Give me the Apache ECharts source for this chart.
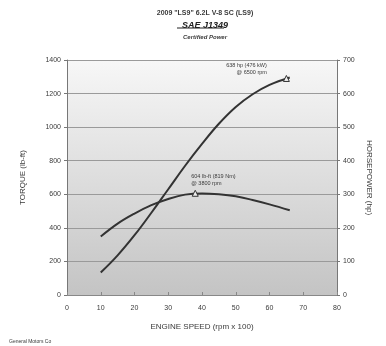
<!DOCTYPE html>
<html>
<head>
<meta charset="utf-8">
<script src="https://cdn.jsdelivr.net/npm/echarts@6/dist/echarts.min.js"></script>
<style>
  html, body {margin: 0; padding: 0; background: #fff;}
  #chart {width: 386px; height: 346px;}
</style>
</head>
<body>
<div id="chart"></div>
<script>
// engine speed in rpm x 100
const rpm = [10, 15, 20, 25, 30, 35, 40, 45, 50, 55, 60, 66];
const torque = [348, 425, 485, 535, 572, 598, 605, 600, 588, 566, 540, 505];
const horsepower = [67, 118, 178, 245, 315, 385, 450, 510, 560, 598, 626, 648];
const xTicks = [0, 10, 20, 30, 40, 50, 60, 70, 80];
const torquePeak = [38, 606];
const hpPeak = [65, 645];

const chart = echarts.init(document.getElementById('chart'));
const ink = '#3a3a3a';

chart.setOption({
    animation: false,
    textStyle: {fontFamily: 'Liberation Sans', color: ink},
    title: [
        {text: '2009 "LS9" 6.2L V-8 SC (LS9)', left: 200, top: 5, textAlign: 'center',
            textStyle: {fontSize: 7, fontWeight: 'bold', color: ink}},
        {text: 'SAE J1349', left: 200, top: 16, textAlign: 'center',
            textStyle: {fontSize: 9, fontWeight: 'bold', fontStyle: 'italic', color: '#222'}},
        {text: 'Certified Power', left: 200, top: 29, textAlign: 'center',
            textStyle: {fontSize: 6, fontStyle: 'italic', fontWeight: 'bold', color: ink}},
        {text: 'General Motors Co', left: 4, top: 334,
            textStyle: {fontSize: 5, fontWeight: 'normal', color: ink}}
    ],
    graphic: [
        {type: 'line', shape: {x1: 177, y1: 28, x2: 224, y2: 28}, style: {stroke: '#222', lineWidth: 1}}
    ],
    grid: {left: 67, right: 49, top: 60, bottom: 51,
        show: true, borderWidth: 0,
        backgroundColor: new echarts.graphic.LinearGradient(0, 0, 0, 1, [
            {offset: 0, color: '#f7f7f7'},
            {offset: 1, color: '#c4c4c4'}
        ])},
    xAxis: {
        type: 'value', min: 0, max: 80, interval: 10,
        name: 'ENGINE SPEED (rpm x 100)', nameLocation: 'middle', nameGap: 28,
        nameTextStyle: {fontSize: 8, color: ink},
        axisLine: {show: true, lineStyle: {color: '#888'}},
        axisTick: {inside: true, length: 3, lineStyle: {color: '#888'}},
        axisLabel: {fontSize: 7, color: ink, margin: 10,
            formatter: v => xTicks.includes(v) ? String(v) : ''},
        splitLine: {show: false}
    },
    yAxis: [
        {
            type: 'value', min: 0, max: 1400, interval: 200,
            name: 'TORQUE (lb-ft)', nameLocation: 'middle', nameGap: 40, nameRotate: 90,
            nameTextStyle: {fontSize: 8, color: ink},
            axisLine: {show: true, lineStyle: {color: '#777'}},
            axisTick: {show: true, length: 3, lineStyle: {color: '#777'}},
            axisLabel: {fontSize: 7, color: ink, margin: 6, formatter: v => String(v)},
            splitLine: {show: true, lineStyle: {color: '#9a9a9a', width: 1}}
        },
        {
            type: 'value', min: 0, max: 700, interval: 100,
            name: 'HORSEPOWER (hp)', nameLocation: 'middle', nameGap: 28, nameRotate: 270,
            nameTextStyle: {fontSize: 8, color: ink},
            axisLine: {show: true, lineStyle: {color: '#777'}},
            axisTick: {show: true, length: 3, lineStyle: {color: '#777'}},
            axisLabel: {fontSize: 7, color: ink, margin: 6, formatter: v => String(v)},
            splitLine: {show: false}
        }
    ],
    series: [
        {
            name: 'Torque', type: 'line', yAxisIndex: 0, smooth: 0.4,
            symbol: 'none', lineStyle: {color: '#333', width: 2},
            data: rpm.map((r, i) => [r, torque[i]]),
            markPoint: {
                symbol: 'triangle', symbolSize: 6,
                itemStyle: {color: '#eee', borderColor: '#333', borderWidth: 1},
                data: [{coord: torquePeak, value: 'peak'}],
                label: {show: true, position: 'top', distance: 3, align: 'left', offset: [-4, 0],
                    fontSize: 5.5, color: ink, lineHeight: 7,
                    formatter: '604 lb-ft (819 Nm)\n@ 3800 rpm'}
            }
        },
        {
            name: 'Horsepower', type: 'line', yAxisIndex: 1, smooth: 0.4,
            symbol: 'none', lineStyle: {color: '#333', width: 2},
            data: rpm.map((r, i) => [r, horsepower[i]]),
            markPoint: {
                symbol: 'triangle', symbolSize: 6,
                itemStyle: {color: '#eee', borderColor: '#333', borderWidth: 1},
                data: [{coord: hpPeak, value: 'peak'}],
                label: {show: true, position: 'left', distance: 2, offset: [-14, -9],
                    align: 'right', fontSize: 5.5, color: ink, lineHeight: 7,
                    formatter: '638 hp (476 kW)\n@ 6500 rpm'}
            }
        }
    ]
});
</script>
</body>
</html>
